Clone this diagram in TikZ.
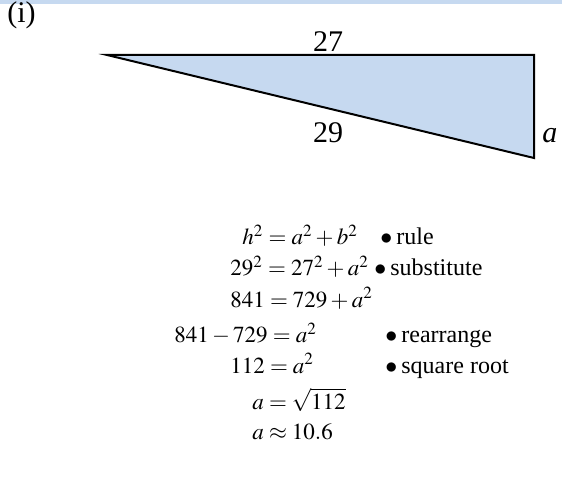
\documentclass[tikz,border=0pt]{standalone}
\usepackage{mathptmx}
\usepackage{fontspec}
\setmainfont{Liberation Serif}
\definecolor{paleblue}{RGB}{198,217,240}

\begin{document}
\begin{tikzpicture}[
  x=0.5pt, y=-0.5pt,
  side/.style={inner sep=0pt, font=\fontsize{15}{18}\selectfont},
  eqn/.style={anchor=base west, inner sep=0pt, font=\fontsize{11.5}{13}\selectfont},
  step note/.style={anchor=base west, inner sep=0pt, font=\fontsize{12}{14}\selectfont}
]
\useasboundingbox (0,0) rectangle (562,497);
\fill[paleblue] (0,0) rectangle (562,4);

\node[anchor=base west, inner sep=0pt, font=\fontsize{15}{17}\selectfont] (part) at (7,23) {(i)};

% triangle
\coordinate (left) at (107,55);
\coordinate (topright) at (534,55);
\coordinate (botright) at (534,158);
\filldraw[fill=paleblue, line width=1pt, line join=miter] (left) -- (topright) -- (botright) -- cycle;

\node[side, anchor=base] (top) at (328,52) {27};
\node[side, anchor=base] (hyp) at (328,143) {29};
\node[side, anchor=base west] (vert) at (542,143) {\itshape a};

% working
\node[eqn] (r1) at (242,245) {$h^2=a^2+b^2$};
\node[eqn] (r2) at (230,276) {$29^2=27^2+a^2$};
\node[eqn] (r3) at (230,307) {$841=729+a^2$};
\node[eqn] (r4) at (174,343) {$841-729=a^2$};
\node[eqn] (r5) at (230,373) {$112=a^2$};
\node[eqn] (r6) at (252,409) {$a=\sqrt{112}$};
\node[eqn] (r7) at (252,439) {$a\approx 10.6$};

\node[step note] (n1) at (380,245) {$\bullet$\,rule};
\node[step note] (n2) at (374,276) {$\bullet$\,substitute};
\node[step note] (n4) at (385,343) {$\bullet$\,rearrange};
\node[step note] (n5) at (385,373) {$\bullet$\,square root};

\end{tikzpicture}
\end{document}
